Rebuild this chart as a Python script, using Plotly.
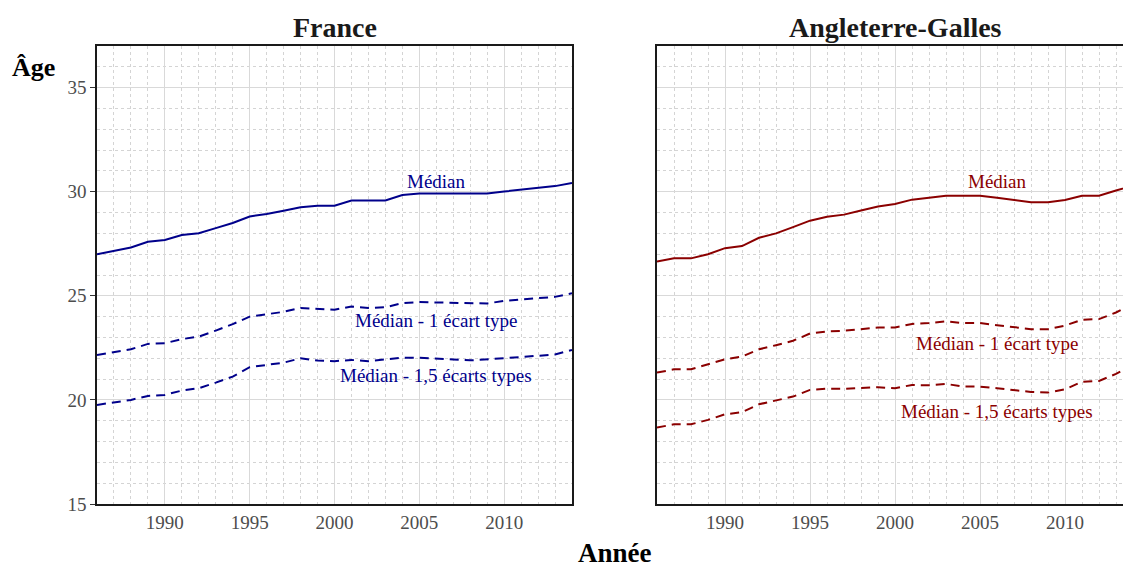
import plotly.graph_objects as go

years = list(range(1986, 2015))

fr_median = [27.0, 27.16, 27.32, 27.6, 27.68, 27.92, 28.01, 28.25, 28.5, 28.81, 28.93, 29.09, 29.25, 29.33,
             29.33, 29.58, 29.58, 29.58, 29.84, 29.92, 29.92, 29.92, 29.92, 29.92, 30.01, 30.1, 30.18, 30.27, 30.42]
fr_minus1 = [22.16, 22.29, 22.43, 22.69, 22.72, 22.92, 23.04, 23.33, 23.64, 24.0, 24.12, 24.23, 24.42, 24.36,
             24.33, 24.49, 24.42, 24.45, 24.65, 24.7, 24.68, 24.65, 24.62, 24.63, 24.76, 24.83, 24.88, 24.95, 25.12]
fr_minus15 = [19.76, 19.89, 20.0, 20.19, 20.24, 20.45, 20.56, 20.83, 21.12, 21.57, 21.67, 21.79, 22.0, 21.89,
              21.86, 21.92, 21.86, 21.94, 22.03, 22.03, 22.0, 21.94, 21.9, 21.94, 22.0, 22.06, 22.12, 22.18, 22.4]

ew_median = [26.65, 26.8, 26.8, 27.0, 27.29, 27.39, 27.79, 28.0, 28.3, 28.61, 28.8, 28.9, 29.1, 29.29,
             29.41, 29.62, 29.71, 29.81, 29.81, 29.81, 29.71, 29.62, 29.5, 29.5, 29.6, 29.81, 29.81, 30.06, 30.3]
ew_minus1 = [21.31, 21.47, 21.47, 21.71, 21.95, 22.08, 22.43, 22.63, 22.84, 23.19, 23.29, 23.32, 23.4, 23.48,
             23.48, 23.65, 23.69, 23.77, 23.69, 23.69, 23.59, 23.49, 23.4, 23.4, 23.57, 23.85, 23.88, 24.2, 24.6]
ew_minus15 = [18.67, 18.83, 18.83, 19.04, 19.31, 19.41, 19.79, 19.97, 20.16, 20.48, 20.54, 20.53, 20.56, 20.61,
              20.56, 20.72, 20.7, 20.77, 20.64, 20.64, 20.56, 20.48, 20.38, 20.35, 20.51, 20.87, 20.91, 21.25, 21.7]

panel_titles = ["France", "Angleterre-Galles"]
series_labels = ["Médian", "Médian - 1 écart type", "Médian - 1,5 écarts types"]
label_year = 2006
fr_label_y = [30.48, 23.8, 21.17]
ew_label_y = [30.48, 22.69, 19.44]
x_ticks = [1990, 1995, 2000, 2005, 2010]
y_ticks = [15, 20, 25, 30, 35]

BLUE = "#00008B"
RED = "#8B0000"
FONT = "Liberation Serif"

fig = go.Figure()

def add_panel(xa, ya, meds, m1, m15, color, label_ys):
    fig.add_trace(go.Scatter(x=years, y=meds, mode="lines", line=dict(color=color, width=2),
                             xaxis=xa, yaxis=ya, showlegend=False, hoverinfo="skip"))
    for s in (m1, m15):
        fig.add_trace(go.Scatter(x=years, y=s, mode="lines",
                                 line=dict(color=color, width=2, dash="9px,6px"),
                                 xaxis=xa, yaxis=ya, showlegend=False, hoverinfo="skip"))
    for lab, yv in zip(series_labels, label_ys):
        fig.add_annotation(x=label_year, y=yv, xref=xa, yref=ya, text=lab, showarrow=False,
                           font=dict(family=FONT, size=19, color=color), xanchor="center", yanchor="middle")

add_panel("x", "y", fr_median, fr_minus1, fr_minus15, BLUE, fr_label_y)
add_panel("x2", "y2", ew_median, ew_minus1, ew_minus15, RED, ew_label_y)

W, H = 1123, 565
ML, MT = 97, 46
ph = 504 - 46
MB = H - MT - ph
MR = 0
pw = W - ML - MR
left_dom = [0, 475 / pw]
right_dom = [(657 - 97) / pw, 1.0]
right_end = 1986 + (W - 657) / 17.0

def px_x(px):
    return (px - ML) / pw

def px_y(py):
    return 1 - (py - MT) / ph

grid_major = "#d9d9d9"
grid_minor = "#d4d4d4"

common_x = dict(tickvals=x_ticks, showgrid=True, gridcolor=grid_major, gridwidth=1.2,
                minor=dict(dtick=1, tick0=1986, showgrid=True, gridcolor=grid_minor, griddash="dot", gridwidth=1),
                showline=True, linecolor="#1a1a1a", linewidth=1.5, mirror=True, ticks="",
                tickfont=dict(family=FONT, size=19, color="#4d4d4d"), zeroline=False)
common_y = dict(range=[15, 37], tickvals=y_ticks, showgrid=True, gridcolor=grid_major, gridwidth=1.2,
                minor=dict(dtick=1, tick0=15, showgrid=True, gridcolor=grid_minor, griddash="dot", gridwidth=1),
                showline=True, linecolor="#1a1a1a", linewidth=1.5, zeroline=False,
                tickfont=dict(family=FONT, size=19, color="#4d4d4d"))

fig.update_layout(
    width=W, height=H,
    margin=dict(l=ML, r=MR, t=MT, b=MB),
    plot_bgcolor="white", paper_bgcolor="white",
    xaxis=dict(domain=left_dom, range=[1986, 2014], anchor="y", **common_x),
    yaxis=dict(domain=[0, 1], anchor="x", ticks="outside", ticklen=5, tickcolor="#333333", mirror=True, **common_y),
    xaxis2=dict(domain=right_dom, range=[1986, right_end], anchor="y2", **common_x),
    yaxis2=dict(domain=[0, 1], anchor="x2", showticklabels=False, ticks="", **common_y),
)

# Panel titles
fig.add_annotation(x=px_x(335), y=px_y(27), xref="paper", yref="paper",
                   text="<b>" + panel_titles[0] + "</b>", showarrow=False,
                   font=dict(family=FONT, size=28, color="#1a1a1a"), xanchor="center", yanchor="middle")
fig.add_annotation(x=px_x(895), y=px_y(27), xref="paper", yref="paper",
                   text="<b>" + panel_titles[1] + "</b>", showarrow=False,
                   font=dict(family=FONT, size=28, color="#1a1a1a"), xanchor="center", yanchor="middle")
# Axis titles
fig.add_annotation(x=px_x(33), y=px_y(67), xref="paper", yref="paper",
                   text="<b>Âge</b>", showarrow=False,
                   font=dict(family=FONT, size=26, color="#000000"), xanchor="center", yanchor="middle")
fig.add_annotation(x=px_x(615), y=px_y(553), xref="paper", yref="paper",
                   text="<b>Année</b>", showarrow=False,
                   font=dict(family=FONT, size=27, color="#000000"), xanchor="center", yanchor="middle")

fig.write_html("out.html", config={"displayModeBar": False},
               post_script="document.body.style.margin='0px';document.body.style.overflow='hidden';")
